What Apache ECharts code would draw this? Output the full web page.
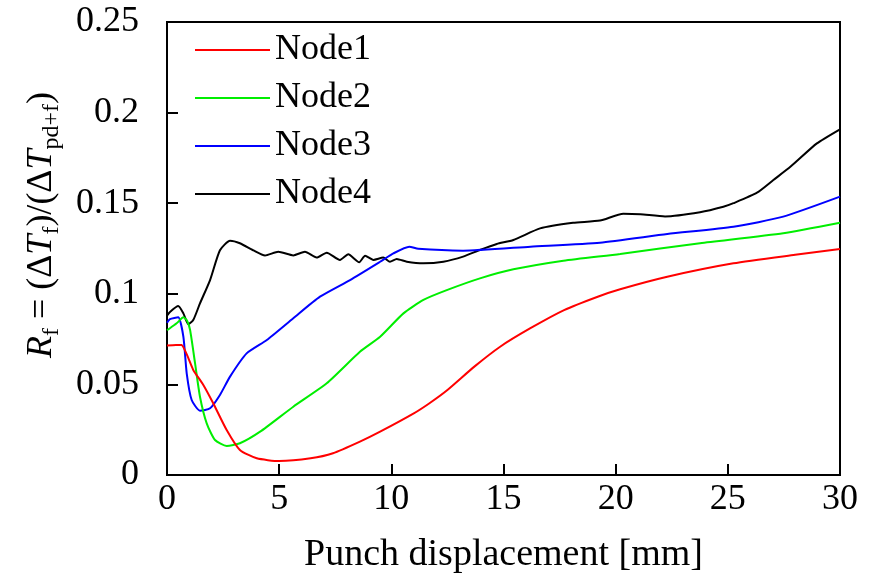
<!DOCTYPE html>
<html>
<head>
<meta charset="utf-8">
<script src="https://cdn.jsdelivr.net/npm/echarts@6/dist/echarts.min.js"></script>
<style>html,body{margin:0;padding:0;background:#fff;}#c{width:877px;height:579px;}</style>
</head>
<body>
<div id="c"></div>
<script>
const seriesNames = ['Node1', 'Node2', 'Node3', 'Node4'];
const seriesColors = ['#ff0000', '#00ee00', '#0000ff', '#000000'];
const xTicks = [0, 5, 10, 15, 20, 25, 30];
const yTicks = [0, 0.05, 0.1, 0.15, 0.2, 0.25];

const node1X = [0, 0.4, 0.65, 0.9, 1.17, 1.62, 2.06, 2.66, 3.25, 4.0, 5.0, 6.4, 7.4, 8.6, 9.5, 11.0, 11.7, 12.5, 13.7, 14.85, 16.2, 17.7, 19.2, 20.2, 22.3, 25.25, 28, 30];
const node1Y = [0.0715, 0.0718, 0.0717, 0.066, 0.058, 0.0497, 0.0396, 0.0248, 0.0138, 0.0092, 0.0077, 0.0092, 0.012, 0.0184, 0.0239, 0.034, 0.0396, 0.0469, 0.0598, 0.0708, 0.081, 0.091, 0.0984, 0.1025, 0.1094, 0.1168, 0.1215, 0.1247];

const node2X = [0, 0.13, 0.43, 0.73, 0.9, 1.03, 1.25, 1.47, 1.77, 2.14, 2.66, 3.25, 4.15, 5.63, 7.12, 8.6, 9.5, 10.54, 11.43, 12.47, 13.95, 15.44, 17.67, 20.2, 23.76, 27.47, 30];
const node2Y = [0.080, 0.081, 0.0837, 0.087, 0.085, 0.080, 0.0617, 0.0432, 0.0285, 0.0193, 0.016, 0.0175, 0.0239, 0.0377, 0.0506, 0.068, 0.0763, 0.0892, 0.0966, 0.102, 0.1085, 0.1135, 0.1183, 0.122, 0.1279, 0.1334, 0.1392];

const node3X = [0, 0.13, 0.5, 0.73, 0.88, 1.1, 1.47, 1.92, 2.36, 2.81, 3.55, 4.45, 5.63, 6.82, 8.16, 9.5, 10.09, 10.8, 11.2, 13.2, 16.2, 19.3, 22.3, 25.25, 27.47, 30];
const node3Y = [0.084, 0.086, 0.087, 0.0763, 0.056, 0.0414, 0.0355, 0.0368, 0.0442, 0.0543, 0.0671, 0.0745, 0.0865, 0.0984, 0.1076, 0.1177, 0.1223, 0.126, 0.1248, 0.1238, 0.126, 0.1282, 0.133, 0.137, 0.1426, 0.1536];

const node4X = [0, 0.13, 0.5, 0.73, 0.95, 1.17, 1.47, 1.92, 2.36, 2.81, 3.25, 3.85, 4.37, 4.96, 5.63, 6.15, 6.67, 7.12, 7.71, 8.08, 8.57, 8.83, 9.2, 9.64, 9.94, 10.24, 10.69, 11.43, 12.32, 13.2, 13.95, 14.7, 15.44, 16.63, 18.1, 19.3, 20.34, 21.1, 22.2, 23.76, 24.8, 25.25, 26.3, 27.03, 27.8, 28.97, 30];
const node4Y = [0.088, 0.090, 0.0933, 0.0892, 0.0832, 0.0855, 0.0947, 0.1076, 0.124, 0.1293, 0.1279, 0.124, 0.1212, 0.1232, 0.1212, 0.1232, 0.12, 0.1227, 0.1187, 0.1218, 0.1174, 0.121, 0.1187, 0.12, 0.1177, 0.1192, 0.1177, 0.1168, 0.1177, 0.1205, 0.1242, 0.1275, 0.1297, 0.1361, 0.1392, 0.1404, 0.1442, 0.1439, 0.1427, 0.1450, 0.148, 0.150, 0.1558, 0.1628, 0.1702, 0.183, 0.1908];

const xs = [node1X, node2X, node3X, node4X];
const ys = [node1Y, node2Y, node3Y, node4Y];

const FONT = "'Liberation Serif', 'Times New Roman', serif";
const chart = echarts.init(document.getElementById('c'), null, {renderer: 'canvas'});

const series = seriesNames.map((name, i) => ({
  name: name,
  type: 'line',
  data: xs[i].map((x, k) => [x, ys[i][k]]),
  showSymbol: false,
  smooth: 0.2,
  lineStyle: {color: seriesColors[i], width: 2},
  itemStyle: {color: seriesColors[i]},
  animation: false,
  z: 10 - i
}));

chart.setOption({
  backgroundColor: '#fff',
  animation: false,
  grid: {left: 167, right: 37, top: 22, bottom: 104, show: true, borderColor: '#000', borderWidth: 2, backgroundColor: 'transparent'},
  legend: {
    data: seriesNames,
    orient: 'vertical',
    left: 195,
    top: 30,
    padding: 0,
    itemWidth: 75,
    itemHeight: 2,
    itemGap: 8,
    icon: 'rect',
    selectedMode: false,
    textStyle: {fontFamily: FONT, fontSize: 36, color: '#000', lineHeight: 40, padding: [0, 0, 0, 0]}
  },
  xAxis: {
    type: 'value',
    min: xTicks[0],
    max: xTicks[xTicks.length - 1],
    interval: 5,
    name: 'Punch displacement [mm]',
    nameLocation: 'middle',
    nameGap: 61,
    nameTextStyle: {fontFamily: FONT, fontSize: 38, color: '#000'},
    axisLine: {show: true, lineStyle: {color: '#000', width: 2}},
    axisTick: {show: true, inside: true, length: 11, lineStyle: {color: '#000', width: 2}},
    axisLabel: {fontFamily: FONT, fontSize: 36, color: '#000', margin: 7},
    splitLine: {show: false}
  },
  yAxis: {
    type: 'value',
    min: yTicks[0],
    max: yTicks[yTicks.length - 1],
    interval: 0.05,
    axisLine: {show: true, lineStyle: {color: '#000', width: 2}},
    axisTick: {show: true, inside: true, length: 11, lineStyle: {color: '#000', width: 2}},
    axisLabel: {fontFamily: FONT, fontSize: 36, color: '#000', margin: 28, formatter: v => String(+v.toFixed(2))},
    splitLine: {show: false}
  },
  graphic: [{
    type: 'text',
    x: 42,
    y: 225,
    rotation: Math.PI / 2,
    style: {
      text: '{i|R}{s|f}{n| = (Δ}{i|T}{s|f}{n|)/(Δ}{i|T}{s|pd+f}{n|)}',
      textAlign: 'center',
      textVerticalAlign: 'middle',
      align: 'center',
      verticalAlign: 'middle',
      fill: '#000',
      font: '36px ' + FONT,
      rich: {
        i: {fontFamily: FONT, fontSize: 36, fontStyle: 'italic', lineHeight: 44, verticalAlign: 'middle', fill: '#000', color: '#000'},
        n: {fontFamily: FONT, fontSize: 36, lineHeight: 44, verticalAlign: 'middle', fill: '#000', color: '#000'},
        s: {fontFamily: FONT, fontSize: 24, lineHeight: 22, verticalAlign: 'bottom', fill: '#000', color: '#000'}
      }
    }
  }],
  series: series
});
</script>
</body>
</html>
